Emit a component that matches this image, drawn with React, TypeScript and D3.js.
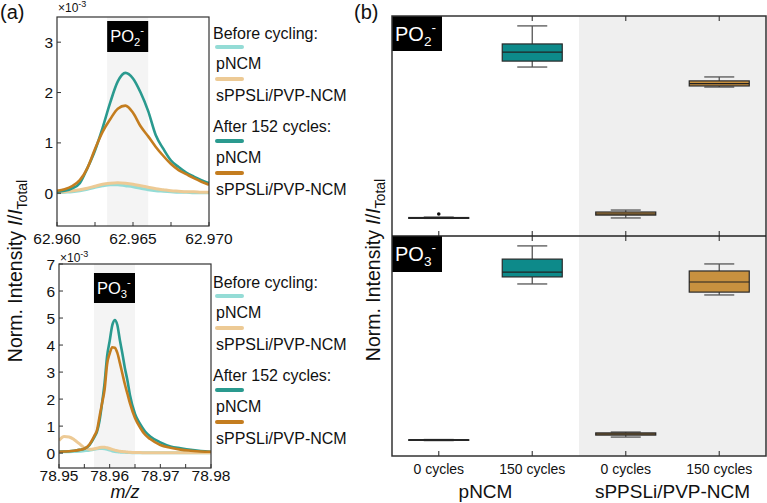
import React from "react";
import * as d3 from "d3";

const FONT = "'Liberation Sans', Arial, Helvetica, sans-serif";

// ---------- (a) spectra data ----------
const po2Mz = [62.96, 62.9605, 62.961, 62.9615, 62.962, 62.9625, 62.963, 62.9635, 62.964, 62.9645, 62.965, 62.9655, 62.966, 62.9665, 62.967, 62.9675, 62.968, 62.9685, 62.969, 62.9695, 62.97];
const po2BeforePNCM = [0.01, 0.02, 0.03, 0.05, 0.08, 0.12, 0.15, 0.17, 0.17, 0.15, 0.13, 0.1, 0.07, 0.05, 0.04, 0.03, 0.02, 0.02, 0.01, 0.01, 0.01];
const po2BeforeSPPS = [0.02, 0.03, 0.05, 0.07, 0.1, 0.14, 0.18, 0.2, 0.21, 0.2, 0.18, 0.15, 0.12, 0.09, 0.07, 0.05, 0.04, 0.03, 0.03, 0.02, 0.02];
const po2AfterPNCM = [0.03, 0.05, 0.1, 0.2, 0.5, 0.85, 1.3, 1.8, 2.22, 2.39, 2.28, 2.0, 1.63, 1.15, 0.88, 0.65, 0.52, 0.41, 0.33, 0.26, 0.2];
const po2AfterSPPS = [0.05, 0.08, 0.14, 0.26, 0.5, 0.88, 1.22, 1.47, 1.68, 1.74, 1.6, 1.33, 1.13, 0.92, 0.74, 0.58, 0.46, 0.38, 0.3, 0.23, 0.17];

const po3Mz = [78.95, 78.951, 78.952, 78.953, 78.954, 78.955, 78.956, 78.957, 78.9575, 78.958, 78.9585, 78.959, 78.9595, 78.96, 78.9605, 78.961, 78.9615, 78.962, 78.9625, 78.963, 78.9635, 78.964, 78.965, 78.966, 78.967, 78.968, 78.97, 78.972, 78.974, 78.976, 78.978, 78.98];
const po3BeforePNCM = [0.05, 0.05, 0.05, 0.06, 0.07, 0.09, 0.11, 0.14, 0.16, 0.17, 0.17, 0.16, 0.14, 0.11, 0.08, 0.06, 0.05, 0.04, 0.03, 0.03, 0.02, 0.02, 0.01, 0.01, 0.01, 0.01, 0.01, 0.01, 0.01, 0.01, 0.01, 0.01];
const po3BeforeSPPS = [0.47, 0.62, 0.6, 0.5, 0.35, 0.2, 0.14, 0.16, 0.18, 0.21, 0.22, 0.22, 0.2, 0.17, 0.14, 0.11, 0.09, 0.07, 0.06, 0.05, 0.04, 0.03, 0.02, 0.02, 0.01, 0.01, 0.01, 0.01, 0.01, 0.01, 0.01, 0.01];
const po3AfterPNCM = [0.05, 0.06, 0.07, 0.09, 0.12, 0.16, 0.3, 0.6, 0.8, 1.2, 1.85, 2.6, 3.6, 4.15, 4.72, 4.93, 4.75, 4.2, 3.7, 3.15, 2.7, 2.15, 1.45, 1.08, 0.8, 0.62, 0.4, 0.25, 0.18, 0.12, 0.08, 0.05];
const po3AfterSPPS = [0.05, 0.06, 0.07, 0.09, 0.12, 0.16, 0.32, 0.65, 0.85, 1.35, 1.85, 2.35, 3.3, 3.68, 3.92, 3.9, 3.72, 3.35, 2.95, 2.55, 2.2, 1.85, 1.3, 0.95, 0.68, 0.52, 0.3, 0.2, 0.13, 0.09, 0.06, 0.05];

const po2XTicks = [62.96, 62.9625, 62.965, 62.9675, 62.97];
const po2XLabels = ["62.960", "", "62.965", "", "62.970"];
const po2YTicks = [0, 1, 2, 3];
const po3XTicks = [78.95, 78.955, 78.96, 78.965, 78.97, 78.975, 78.98];
const po3XLabels = ["78.95", "", "78.96", "", "78.97", "", "78.98"];
const po3YTicks = [0, 1, 2, 3, 4, 5, 6, 7];

const legendHeaders = ["Before cycling:", "After 152 cycles:"];
const legendNames = ["pNCM", "sPPSLi/PVP-NCM"];

// ---------- (b) box plot data ----------
const boxKeys = ["pNCM-0", "pNCM-150", "sPPS-0", "sPPS-150"];
const cycleLabels = ["0 cycles", "150 cycles", "0 cycles", "150 cycles"];
const groupLabels = ["pNCM", "sPPSLi/PVP-NCM"];

const po2Min = [0.8, 7.68, 0.82, 6.77];
const po2Q1 = [0.8, 7.95, 0.95, 6.82];
const po2Med = [0.82, 8.36, 1.0, 6.93];
const po2Q3 = [0.84, 8.73, 1.09, 7.05];
const po2Max = [0.86, 9.55, 1.18, 7.23];
const po2Outliers = [[1.0], [], [], []];

const po3Min = [0.7, 7.82, 0.86, 7.32];
const po3Q1 = [0.71, 8.14, 0.95, 7.45];
const po3Med = [0.73, 8.36, 1.0, 7.91];
const po3Q3 = [0.74, 8.95, 1.05, 8.41];
const po3Max = [0.75, 9.55, 1.09, 8.73];
const po3Outliers = [[], [], [], []];

const C_BEFORE_P = "#94dcd6";
const C_BEFORE_S = "#edca95";
const C_AFTER_P = "#2a9a8f";
const C_AFTER_S = "#c47d1f";
const BOX_FILL = ["#0d8a8a", "#0d8a8a", "#c8913f", "#c8913f"];

function Ion({ x, y, size, sub }: { x: number; y: number; size: number; sub: string }) {
  const s = size * 0.68;
  return (
    <text x={x} y={y} fill="#fff" fontSize={size} fontFamily={FONT}>
      PO
      <tspan fontSize={s} dy={size * 0.25}>{sub}</tspan>
      <tspan fontSize={s} dy={-size * 0.72}>-</tspan>
    </text>
  );
}

type SpecCfg = {
  left: number; right: number; top: number; bottom: number;
  xDomain: [number, number]; yDomain: [number, number];
  mz: number[]; series: { v: number[]; c: string; w: number }[];
  xTicks: number[]; xLabels: string[]; yTicks: number[];
  band: [number, number]; sub: string; boxTop: number; boxH: number;
  xLabelY: number; expY: number; legendTop: number; id: string;
};

function Spectrum({ cfg }: { cfg: SpecCfg }) {
  const x = d3.scaleLinear().domain(cfg.xDomain).range([cfg.left, cfg.right]);
  const y = d3.scaleLinear().domain(cfg.yDomain).range([cfg.bottom, cfg.top]);
  const line = (vals: number[]) =>
    d3.line<number>().x((_, i) => x(cfg.mz[i])).y((d) => y(d)).curve(d3.curveMonotoneX)(vals) || "";
  const lx0 = 217, lx1 = 242;
  const L = cfg.legendTop;
  const legendRows = [
    { t: "h", text: legendHeaders[0], y: L },
    { t: "s", c: C_BEFORE_P, y: L + 14 },
    { t: "n", text: legendNames[0], y: L + 30 },
    { t: "s", c: C_BEFORE_S, y: L + 46 },
    { t: "n", text: legendNames[1], y: L + 62 },
    { t: "h", text: legendHeaders[1], y: L + 93 },
    { t: "s", c: C_AFTER_P, y: L + 108 },
    { t: "n", text: legendNames[0], y: L + 124 },
    { t: "s", c: C_AFTER_S, y: L + 140 },
    { t: "n", text: legendNames[1], y: L + 156 },
  ];
  return (
    <g>
      <defs>
        <clipPath id={cfg.id}>
          <rect x={cfg.left} y={cfg.top} width={cfg.right - cfg.left} height={cfg.bottom - cfg.top} />
        </clipPath>
      </defs>
      <rect x={x(cfg.band[0])} y={cfg.top} width={x(cfg.band[1]) - x(cfg.band[0])} height={cfg.bottom - cfg.top} fill="#f4f4f4" />
      <g clipPath={`url(#${cfg.id})`}>
        {cfg.series.map((s, i) => (
          <path key={i} d={line(s.v)} fill="none" stroke={s.c} strokeWidth={s.w} strokeLinejoin="round" />
        ))}
      </g>
      <rect x={x(cfg.band[0])} y={cfg.boxTop} width={x(cfg.band[1]) - x(cfg.band[0])} height={cfg.boxH} fill="#000" />
      <Ion x={x(cfg.band[0]) + 3} y={cfg.boxTop + 21} size={16.5} sub={cfg.sub} />
      <rect x={cfg.left} y={cfg.top} width={cfg.right - cfg.left} height={cfg.bottom - cfg.top} fill="none" stroke="#333" strokeWidth={1.2} />
      {cfg.xTicks.map((t, i) => (
        <g key={"x" + i}>
          <line x1={x(t)} x2={x(t)} y1={cfg.bottom} y2={cfg.bottom - 4} stroke="#333" strokeWidth={1} />
          {cfg.xLabels[i] && (
            <text x={x(t)} y={cfg.xLabelY} textAnchor="middle" fontSize={15.5} fontFamily={FONT} fill="#111">{cfg.xLabels[i]}</text>
          )}
        </g>
      ))}
      {cfg.yTicks.map((t, i) => (
        <g key={"y" + i}>
          <line x1={cfg.left} x2={cfg.left + 4} y1={y(t)} y2={y(t)} stroke="#333" strokeWidth={1} />
          <text x={cfg.left - 4} y={y(t) + 5.5} textAnchor="end" fontSize={15.5} fontFamily={FONT} fill="#111">{t}</text>
        </g>
      ))}
      <text x={cfg.left + 1} y={cfg.expY} fontSize={12} fontFamily={FONT} fill="#111">
        ×10<tspan fontSize={9} dy={-5}>-3</tspan>
      </text>
      {legendRows.map((r, i) =>
        r.t === "s" ? (
          <line key={i} x1={lx0} x2={lx1} y1={r.y} y2={r.y} stroke={r.c} strokeWidth={4} strokeLinecap="round" />
        ) : (
          <text key={i} x={r.t === "h" ? 213 : 216} y={r.y + 6} fontSize={16} fontFamily={FONT} fill="#111">{r.text}</text>
        )
      )}
    </g>
  );
}

function BoxPanel({ top, bottom, mins, q1, med, q3, maxs, outs, sub, xs }: any) {
  const y = d3.scaleLinear().domain([0, 10]).range([bottom, top]);
  const bw = 60, cw = 30;
  return (
    <g>
      {boxKeys.map((k, i) => {
        const cx = (xs(k) as number) + xs.bandwidth() / 2;
        return (
          <g key={k}>
            <line x1={cx} x2={cx} y1={y(maxs[i])} y2={y(q3[i])} stroke="#555" strokeWidth={1.3} />
            <line x1={cx} x2={cx} y1={y(q1[i])} y2={y(mins[i])} stroke="#555" strokeWidth={1.3} />
            <line x1={cx - cw / 2} x2={cx + cw / 2} y1={y(maxs[i])} y2={y(maxs[i])} stroke="#555" strokeWidth={1.3} />
            <line x1={cx - cw / 2} x2={cx + cw / 2} y1={y(mins[i])} y2={y(mins[i])} stroke="#555" strokeWidth={1.3} />
            <rect x={cx - bw / 2} y={y(q3[i])} width={bw} height={Math.max(0.5, y(q1[i]) - y(q3[i]))} fill={BOX_FILL[i]} stroke="#2a2a2a" strokeWidth={1.2} />
            <line x1={cx - bw / 2} x2={cx + bw / 2} y1={y(med[i])} y2={y(med[i])} stroke="#222" strokeWidth={1.2} />
            {outs[i].map((o: number, j: number) => (
              <circle key={j} cx={cx} cy={y(o)} r={1.8} fill="#111" />
            ))}
          </g>
        );
      })}
      {boxKeys.map((k) => {
        const cx = (xs(k) as number) + xs.bandwidth() / 2;
        return (
          <g key={"t" + k}>
            <line x1={cx} x2={cx} y1={top} y2={top + 5} stroke="#444" strokeWidth={1.2} />
            <line x1={cx} x2={cx} y1={bottom} y2={bottom - 5} stroke="#444" strokeWidth={1.2} />
          </g>
        );
      })}
      <rect x={392} y={top} width={50} height={sub === "2" ? 35 : 36} fill="#000" />
      <Ion x={395} y={top + 25} size={20} sub={sub} />
    </g>
  );
}

export default function App() {
  const xs = d3.scaleBand<string>().domain(boxKeys).range([392, 766]).padding(0);
  const pTop = 16, pMid = 236, pBot = 456;

  const po2Cfg: SpecCfg = {
    left: 57, right: 209, top: 17, bottom: 226,
    xDomain: [62.96, 62.97], yDomain: [-0.65, 3.5],
    mz: po2Mz,
    series: [
      { v: po2BeforePNCM, c: C_BEFORE_P, w: 3 },
      { v: po2BeforeSPPS, c: C_BEFORE_S, w: 3 },
      { v: po2AfterPNCM, c: C_AFTER_P, w: 2.6 },
      { v: po2AfterSPPS, c: C_AFTER_S, w: 2.6 },
    ],
    xTicks: po2XTicks, xLabels: po2XLabels, yTicks: po2YTicks,
    band: [62.9633, 62.966], sub: "2", boxTop: 21, boxH: 31,
    xLabelY: 244, expY: 12, legendTop: 33, id: "clipA",
  };
  const po3Cfg: SpecCfg = {
    left: 59, right: 211, top: 264, bottom: 468,
    xDomain: [78.95, 78.98], yDomain: [-0.55, 7],
    mz: po3Mz,
    series: [
      { v: po3BeforePNCM, c: C_BEFORE_P, w: 3 },
      { v: po3BeforeSPPS, c: C_BEFORE_S, w: 3 },
      { v: po3AfterPNCM, c: C_AFTER_P, w: 2.6 },
      { v: po3AfterSPPS, c: C_AFTER_S, w: 2.6 },
    ],
    xTicks: po3XTicks, xLabels: po3XLabels, yTicks: po3YTicks,
    band: [78.9569, 78.965], sub: "3", boxTop: 273, boxH: 30,
    xLabelY: 481, expY: 262, legendTop: 282, id: "clipB",
  };

  const grayX = xs(boxKeys[2]) as number;

  return (
    <svg width={767} height={503} style={{ position: "absolute", left: 0, top: 0 }} fontFamily={FONT}>
      <rect x={0} y={0} width={767} height={503} fill="#fff" />
      <text x={0} y={19} fontSize={20} fill="#111">(a)</text>
      <text x={354} y={19} fontSize={20} fill="#111">(b)</text>

      <text transform="translate(22,271) rotate(-90)" textAnchor="middle" fontSize={19.5} fill="#111">
        Norm. Intensity <tspan fontStyle="italic">I</tspan>/<tspan fontStyle="italic">I</tspan>
        <tspan fontSize={14} dy={5}>Total</tspan>
      </text>
      <text x={125} y={498} textAnchor="middle" fontSize={18} fontStyle="italic" fill="#111">m/z</text>

      <Spectrum cfg={po2Cfg} />
      <Spectrum cfg={po3Cfg} />

      {/* (b) */}
      <rect x={grayX} y={pTop} width={766 - grayX} height={pBot - pTop} fill="#efefef" />
      <BoxPanel top={pTop} bottom={pMid} mins={po2Min} q1={po2Q1} med={po2Med} q3={po2Q3} maxs={po2Max} outs={po2Outliers} sub="2" xs={xs} />
      <BoxPanel top={pMid} bottom={pBot} mins={po3Min} q1={po3Q1} med={po3Med} q3={po3Q3} maxs={po3Max} outs={po3Outliers} sub="3" xs={xs} />
      <rect x={392} y={pTop} width={374} height={pBot - pTop} fill="none" stroke="#333" strokeWidth={1.5} />
      <line x1={392} x2={766} y1={pMid} y2={pMid} stroke="#222" strokeWidth={1.5} />

      <text transform="translate(380,270) rotate(-90)" textAnchor="middle" fontSize={19.5} fill="#111">
        Norm. Intensity <tspan fontStyle="italic">I</tspan>/<tspan fontStyle="italic">I</tspan>
        <tspan fontSize={14} dy={5}>Total</tspan>
      </text>

      {boxKeys.map((k, i) => (
        <text key={k} x={(xs(k) as number) + xs.bandwidth() / 2} y={474} textAnchor="middle" fontSize={14} fill="#111">
          {cycleLabels[i]}
        </text>
      ))}
      {groupLabels.map((g, i) => {
        const a = xs(boxKeys[i * 2]) as number;
        const b = (xs(boxKeys[i * 2 + 1]) as number) + xs.bandwidth();
        return (
          <text key={g} x={(a + b) / 2} y={498} textAnchor="middle" fontSize={19} fill="#111">{g}</text>
        );
      })}
    </svg>
  );
}
